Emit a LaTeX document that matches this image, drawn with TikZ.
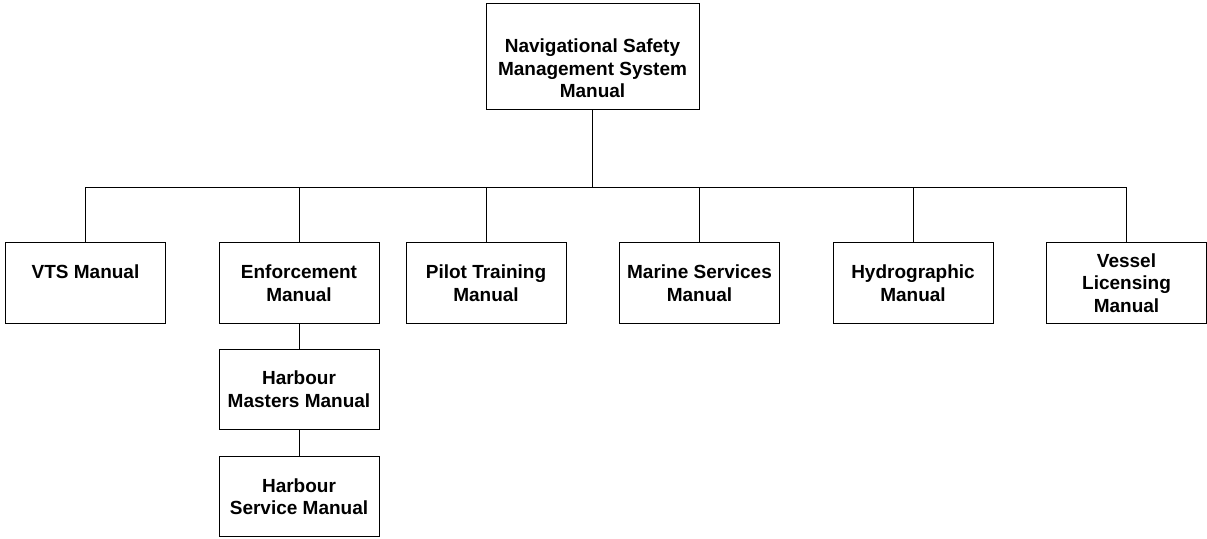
\documentclass[tikz,border=0pt]{standalone}
\usepackage{fontspec}
\setmainfont{Liberation Sans}
\begin{document}
\begin{tikzpicture}[x=1pt,y=-1pt,
  box/.style={draw=black, line width=1pt, inner sep=0pt, minimum width=160pt, minimum height=80.5pt,
    align=center, font=\fontsize{19}{22.5}\selectfont\bfseries},
  link/.style={draw=black, line width=1pt}]
\useasboundingbox (0,0) rectangle (1207,538);
\node[box, minimum width=213pt, minimum height=106pt] (top) at (592.5,56) {\strut\\Navigational Safety\\Management System\\Manual};
\node[box] (vts) at (85.5,283) {VTS Manual\\\mbox{}};
\node[box] (enf) at (299,283) {Enforcement\\Manual};
\node[box] (pilot) at (486,283) {Pilot Training\\Manual};
\node[box] (marine) at (699.5,283) {Marine Services\\Manual};
\node[box] (hydro) at (913,283) {Hydrographic\\Manual};
\node[box] (vessel) at (1126.5,283) {Vessel\\Licensing\\Manual};
\node[box, minimum height=80pt] (hm) at (299,389) {Harbour\\Masters Manual};
\node[box] (hs) at (299,496.5) {Harbour\\Service Manual};
\coordinate (bus) at (0,187.5);
\draw[link] (top.south) -- (top.south |- bus);
\draw[link] (vts.north) -- (vts.north |- bus) -- (vessel.north |- bus) -- (vessel.north);
\draw[link] (enf.north) -- (enf.north |- bus);
\draw[link] (pilot.north) -- (pilot.north |- bus);
\draw[link] (marine.north) -- (marine.north |- bus);
\draw[link] (hydro.north) -- (hydro.north |- bus);
\draw[link] (enf.south) -- (hm.north);
\draw[link] (hm.south) -- (hs.north);
\end{tikzpicture}
\end{document}
